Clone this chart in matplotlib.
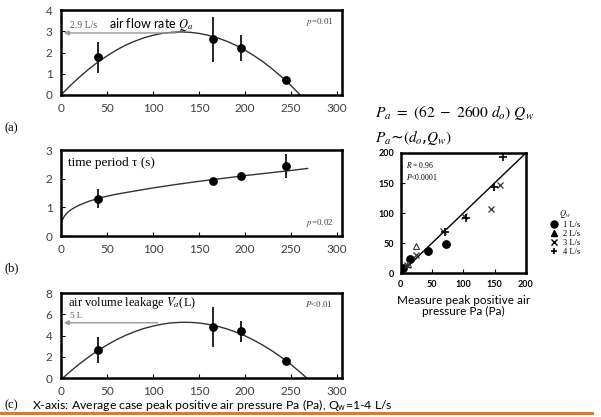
import numpy as np
import matplotlib
matplotlib.use('Agg')
import matplotlib.pyplot as plt
from matplotlib.lines import Line2D

plt.rcParams['mathtext.fontset'] = 'stix'
SANS = 'Lato'
SERIF = 'Liberation Serif'
#================================================================
# data
pa = [40, 165, 196, 245]

flow = [1.80, 2.63, 2.22, 0.70]
flow_lo = [1.02, 1.56, 1.60, 0.70]
flow_hi = [2.50, 3.65, 2.82, 0.70]
flow_fit_x = [0, 10, 20, 30, 40, 50, 60, 70, 80, 90, 100, 110, 120, 130,
              140, 150, 160, 170, 180, 190, 200, 210, 220, 230, 240, 250, 260]
flow_fit_y = [0, 0.44, 0.84, 1.21, 1.55, 1.84, 2.11, 2.34, 2.53, 2.69, 2.81, 2.90, 2.95, 2.97,
              2.95, 2.90, 2.81, 2.69, 2.53, 2.34, 2.11, 1.84, 1.55, 1.21, 0.84, 0.44, 0]

tau = [1.31, 1.93, 2.09, 2.45]
tau_lo = [0.97, 1.85, 1.98, 2.01]
tau_hi = [1.63, 2.02, 2.20, 2.88]
tau_fit_x = [0, 1, 2, 4, 7, 10, 15, 20, 30, 40, 50, 60, 80, 100, 125, 150, 175, 200, 225, 250, 268]
tau_fit_y = [0.35, 0.52, 0.60, 0.71, 0.82, 0.90, 1.00, 1.08, 1.21, 1.31, 1.39, 1.46, 1.57,
             1.68, 1.80, 1.91, 2.01, 2.11, 2.20, 2.29, 2.36]

vol = [2.64, 4.84, 4.43, 1.63]
vol_lo = [1.44, 2.95, 3.43, 1.63]
vol_hi = [3.84, 6.67, 5.38, 1.63]
vol_fit_x = [2, 10, 20, 30, 40, 50, 60, 70, 80, 90, 100, 110, 120, 130, 140,
             150, 160, 170, 180, 190, 200, 210, 220, 230, 240, 250, 260, 267]
vol_fit_y = [0, 0.61, 1.33, 1.98, 2.58, 3.11, 3.59, 4.01, 4.36, 4.66, 4.89, 5.07, 5.19, 5.24, 5.24,
             5.18, 5.05, 4.87, 4.63, 4.33, 3.97, 3.54, 3.06, 2.52, 1.92, 1.26, 0.54, 0]

# measured (x) vs predicted (y) peak pressure, by Qw
q1_x = [4, 14, 43, 72]
q1_y = [9, 23, 36, 48]
q2_x = [12, 25]
q2_y = [15, 45]
q3_x = [10, 25, 68, 101, 144, 158]
q3_y = [14, 30, 70, 95, 107, 146]
q4_x = [2, 70, 104, 149, 163]
q4_y = [3, 68, 91, 143, 194]
#================================================================
def style_axes(ax, xmax, ymax, yticks):
    ax.set_xlim(0, xmax)
    ax.set_ylim(0, ymax)
    ax.set_xticks([0, 50, 100, 150, 200, 250, 300])
    ax.set_yticks(yticks)
    for s in ax.spines.values():
        s.set_linewidth(1.8)
    ax.tick_params(direction='in', length=3, width=0.8, labelsize=8.5,
                   labelcolor='#404040', pad=6)
    for lab in ax.get_xticklabels() + ax.get_yticklabels():
        lab.set_fontfamily(SANS)


def panel(ax, y, lo, hi, fx, fy):
    yerr = [np.array(y) - np.array(lo), np.array(hi) - np.array(y)]
    ax.errorbar(pa, y, yerr=yerr, fmt='o', color='black', ms=5.3, elinewidth=1.2, capsize=0)
    ax.plot(fx, fy, color='#333333', lw=1)


fig = plt.figure(figsize=(6.01, 4.17), dpi=100)

# (a) air flow rate
ax1 = fig.add_axes([0.1015, 0.7722, 0.467, 0.2038])
panel(ax1, flow, flow_lo, flow_hi, flow_fit_x, flow_fit_y)
style_axes(ax1, 305, 4, [0, 1, 2, 3, 4])
ax1.annotate('', xy=(0, 2.92), xytext=(128, 2.92),
             arrowprops=dict(arrowstyle='-|>', color='#999999', lw=1, mutation_scale=7))
ax1.text(10, 3.25, '2.9 L/s', fontsize=7, family=SERIF, color='#555555', va='center')
ax1.text(52, 3.3, 'air flow rate $Q_a$', fontsize=9, family=SANS, va='center')
ax1.text(0.97, 0.93, '$p$=0.01', transform=ax1.transAxes, fontsize=6.5, family=SERIF,
         color='#444444', ha='right', va='top')

# (b) time period
ax2 = fig.add_axes([0.1015, 0.434, 0.467, 0.206])
panel(ax2, tau, tau_lo, tau_hi, tau_fit_x, tau_fit_y)
style_axes(ax2, 305, 3, [0, 1, 2, 3])
ax2.text(0.025, 0.85, 'time period τ (s)', transform=ax2.transAxes, fontsize=9.5,
         family=SERIF, va='center')
ax2.text(0.97, 0.08, '$p$=0.02', transform=ax2.transAxes, fontsize=6.5, family=SERIF,
         color='#444444', ha='right', va='bottom')

# (c) air volume leakage
ax3 = fig.add_axes([0.1015, 0.0935, 0.467, 0.2038])
panel(ax3, vol, vol_lo, vol_hi, vol_fit_x, vol_fit_y)
style_axes(ax3, 305, 8, [0, 2, 4, 6, 8])
ax3.annotate('', xy=(0, 5.2), xytext=(108, 5.2),
             arrowprops=dict(arrowstyle='-|>', color='#999999', lw=1, mutation_scale=7))
ax3.text(10, 5.85, '5 L', fontsize=6.5, family=SERIF, color='#555555', va='center')
ax3.text(0.025, 0.885, 'air volume leakage $V_a$(L)', transform=ax3.transAxes, fontsize=9,
         family=SERIF, va='center')
ax3.text(0.97, 0.93, '$P$<0.01', transform=ax3.transAxes, fontsize=6.5, family=SERIF,
         color='#444444', ha='right', va='top')

# panel letters and shared x-axis note
fig.text(0.008, 0.693, '(a)', fontsize=9, family=SERIF, va='center')
fig.text(0.008, 0.357, '(b)', fontsize=9, family=SERIF, va='center')
fig.text(0.008, 0.029, '(c)', fontsize=9, family=SERIF, va='center')
fig.text(0.053, 0.029, 'X-axis: Average case peak positive air pressure Pa (Pa), $\\mathregular{Q_w}$=1-4 L/s',
         fontsize=8.8, family=SANS, va='center')
fig.add_artist(Line2D([0, 0.985], [0.01, 0.01], color='#E07B20', lw=2.2))

# model equation
fig.text(0.624, 0.73, r'$P_a\ =\ (62\ -\ 2600\ d_o)\ Q_w$', fontsize=11.2, va='center')
fig.text(0.624, 0.67, r'$P_a$~$(d_o$,$Q_w)$', fontsize=11, va='center')

# scatter: predicted vs measured
ax4 = fig.add_axes([0.667, 0.3453, 0.208, 0.2878])
ax4.plot([0, 200], [0, 200], color='black', lw=1)
ax4.plot(q1_x, q1_y, 'o', color='black', ms=5.3)
ax4.plot(q2_x, q2_y, '^', mfc='none', mec='#333333', ms=4.5, mew=0.8)
ax4.plot(q3_x, q3_y, 'x', color='#333333', ms=5, mew=0.9)
ax4.plot(q4_x, q4_y, '+', color='black', ms=6, mew=1.2)
ax4.set_xlim(0, 200)
ax4.set_ylim(0, 200)
ax4.set_xticks([0, 50, 100, 150, 200])
ax4.set_yticks([0, 50, 100, 150, 200])
for s in ax4.spines.values():
    s.set_linewidth(1.8)
ax4.tick_params(direction='in', length=3, width=0.8, labelsize=6.5, pad=5)
for lab in ax4.get_xticklabels() + ax4.get_yticklabels():
    lab.set_fontfamily(SANS)
    lab.set_fontweight('bold')
ax4.set_xlabel('Measure peak positive air\npressure Pa (Pa)', fontsize=8.5, family=SANS,
               labelpad=4, linespacing=1.1)
ax4.text(0.04, 0.94, '$R$ = 0.96\n$P$<0.0001', transform=ax4.transAxes, fontsize=5.5,
         family=SERIF, va='top', linespacing=1.2)

handles = [Line2D([], [], ls='none', marker='o', color='black', ms=5),
           Line2D([], [], ls='none', marker='^', color='black', ms=5),
           Line2D([], [], ls='none', marker='x', color='black', ms=4, mew=1),
           Line2D([], [], ls='none', marker='+', color='black', ms=5, mew=1.2)]
leg = fig.legend(handles, ['1 L/s', '2 L/s', '3 L/s', '4 L/s'], title='$Q_w$',
                 loc='upper left', bbox_to_anchor=(0.908, 0.512), frameon=False,
                 prop={'family': SERIF, 'size': 6}, title_fontsize=6,
                 handlelength=1, handletextpad=0.6, labelspacing=0.12, borderpad=0)
leg._legend_box.sep = 1

fig.savefig('out.png', dpi=100)
